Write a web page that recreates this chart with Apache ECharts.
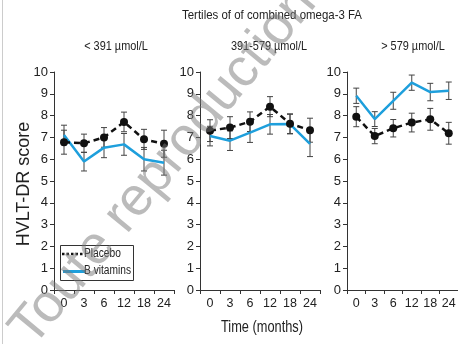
<!DOCTYPE html>
<html><head><meta charset="utf-8">
<script src="https://cdn.jsdelivr.net/npm/echarts@6/dist/echarts.min.js"></script>
<style>html,body{margin:0;padding:0;background:#fff}#c{width:458px;height:344px}</style>
</head><body><div id="c"></div>
<script>
const categories = ['0', '3', '6', '12', '18', '24'];
const panelTitles = ['< 391 µmol/L', '391-579 µmol/L', '> 579 µmol/L'];
const mainTitle = 'Tertiles of of combined omega-3 FA';
const yName = 'HVLT-DR score';
const xName = 'Time (months)';
const seriesNames = ['Placebo', 'B vitamins'];

const placeboLow = [6.78, 6.73, 7.00, 7.71, 6.91, 6.71];
const placeboLowErr = [0.55, 0.42, 0.45, 0.45, 0.46, 0.62];
const vitaminLow = [7.11, 5.89, 6.53, 6.68, 6.00, 5.84];
const vitaminLowErr = [0.45, 0.43, 0.46, 0.50, 0.54, 0.57];

const placeboMid = [7.31, 7.45, 7.72, 8.41, 7.63, 7.33];
const placeboMidErr = [0.50, 0.50, 0.45, 0.46, 0.45, 0.55];
const vitaminMid = [7.06, 6.85, 7.22, 7.60, 7.61, 6.70];
const vitaminMidErr = [0.45, 0.45, 0.45, 0.45, 0.45, 0.58];

const placeboHigh = [7.95, 7.06, 7.42, 7.68, 7.83, 7.19];
const placeboHighErr = [0.46, 0.35, 0.40, 0.43, 0.50, 0.50];
const vitaminHigh = [8.91, 7.84, 8.68, 9.51, 9.08, 9.14];
const vitaminHighErr = [0.35, 0.34, 0.39, 0.35, 0.40, 0.40];

const panels = [
  {p: placeboLow, pe: placeboLowErr, v: vitaminLow, ve: vitaminLowErr},
  {p: placeboMid, pe: placeboMidErr, v: vitaminMid, ve: vitaminMidErr},
  {p: placeboHigh, pe: placeboHighErr, v: vitaminHigh, ve: vitaminHighErr}
];

const FONT = "'Liberation Sans',Arial,sans-serif";
const BLUE = '#1e9fdc';
const INK = '#222';
const lefts = [54, 200, 347];

const chart = echarts.init(document.getElementById('c'), null, {renderer: 'canvas'});

function errData(m, e) { return m.map((v, i) => [i, v - e[i], v + e[i]]); }
function errRender(params, api) {
  const x = api.value(0);
  const top = api.coord([x, api.value(2)]);
  const bot = api.coord([x, api.value(1)]);
  const cw = 3;
  const st = {stroke: '#444', lineWidth: 1};
  return {type: 'group', children: [
    {type: 'line', shape: {x1: top[0], y1: top[1], x2: bot[0], y2: bot[1]}, style: st},
    {type: 'line', shape: {x1: top[0] - cw, y1: top[1], x2: top[0] + cw, y2: top[1]}, style: st},
    {type: 'line', shape: {x1: bot[0] - cw, y1: bot[1], x2: bot[0] + cw, y2: bot[1]}, style: st}
  ]};
}

function label(text, x, y, size, sx, rot) {
  return {type: 'text', x: x, y: y, scaleX: sx, rotation: rot || 0, silent: true, z: 50,
    style: {text: text, fontFamily: FONT, fontSize: size, fill: INK, textAlign: 'center', textVerticalAlign: 'middle'}};
}

const grids = [], xAxes = [], yAxes = [], series = [];
const graphics = [];
graphics.push({type: 'line', shape: {x1: 2.5, y1: 0, x2: 2.5, y2: 344}, style: {stroke: '#ccc', lineWidth: 1}, silent: true});
graphics.push(label(mainTitle, 272, 15, 13, 0.88));
const titleCenters = [116, 269, 413];
panels.forEach((pn, k) => {
  grids.push({left: lefts[k], top: 72, width: 120, height: 218});
  graphics.push(label(panelTitles[k], titleCenters[k], 46, 13, 0.84));
  xAxes.push({type: 'category', gridIndex: k, data: categories, boundaryGap: true,
    axisLine: {lineStyle: {color: '#333', width: 1}},
    axisTick: {show: true, length: 4, lineStyle: {color: '#333'}},
    axisLabel: {fontFamily: FONT, fontSize: 12.5, color: INK, margin: 7, interval: 0}});
  yAxes.push({type: 'value', gridIndex: k, min: 0, max: 10, interval: 1,
    splitLine: {show: false},
    axisLine: {show: true, lineStyle: {color: '#333', width: 1}},
    axisTick: {show: true, length: 4, lineStyle: {color: '#333'}},
    axisLabel: {fontFamily: FONT, fontSize: 13, color: INK, margin: 6}});
  series.push({type: 'custom', xAxisIndex: k, yAxisIndex: k, renderItem: errRender,
    data: errData(pn.v, pn.ve), encode: {x: 0, y: [1, 2]}, z: 1, silent: true});
  series.push({type: 'custom', xAxisIndex: k, yAxisIndex: k, renderItem: errRender,
    data: errData(pn.p, pn.pe), encode: {x: 0, y: [1, 2]}, z: 1, silent: true});
  series.push({name: seriesNames[1], type: 'line', xAxisIndex: k, yAxisIndex: k, data: pn.v,
    symbol: 'none', lineStyle: {color: BLUE, width: 2.5}, itemStyle: {color: BLUE}, z: 3});
  series.push({name: seriesNames[0], type: 'line', xAxisIndex: k, yAxisIndex: k, data: pn.p,
    symbol: 'circle', symbolSize: 8, lineStyle: {color: '#111', width: 2.5, type: [6, 4]},
    itemStyle: {color: '#111'}, z: 4});
});

graphics.push(label(xName, 262, 328, 16, 0.8));
graphics.push(label(yName, 24, 184, 18, 1, Math.PI / 2));

// legend box
graphics.push({type: 'rect', shape: {x: 60.5, y: 245.5, width: 73, height: 35}, silent: true, z: 40,
  style: {fill: '#fff', stroke: '#333', lineWidth: 1}});
graphics.push({type: 'line', shape: {x1: 62, y1: 254, x2: 84, y2: 254}, silent: true, z: 41,
  style: {stroke: '#111', lineWidth: 2.5, lineDash: [2.5, 2]}});
graphics.push({type: 'line', shape: {x1: 63, y1: 271.5, x2: 85, y2: 271.5}, silent: true, z: 41,
  style: {stroke: BLUE, lineWidth: 3}});
graphics.push({type: 'text', x: 84, y: 254, scaleX: 0.85, silent: true, z: 42,
  style: {text: seriesNames[0], fontFamily: FONT, fontSize: 12, fill: INK, textAlign: 'left', textVerticalAlign: 'middle'}});
graphics.push({type: 'text', x: 84, y: 271, scaleX: 0.85, silent: true, z: 42,
  style: {text: seriesNames[1], fontFamily: FONT, fontSize: 12, fill: INK, textAlign: 'left', textVerticalAlign: 'middle'}});

// watermark
graphics.push({type: 'text', x: 42, y: 356, rotation: 0.88, z: 100, silent: true,
  style: {text: 'Toute reproduction interdite', fontFamily: FONT,
    fontSize: 54, fill: 'rgba(120,120,120,0.5)', textAlign: 'left', textVerticalAlign: 'bottom'}});

chart.setOption({
  animation: false,
  grid: grids, xAxis: xAxes, yAxis: yAxes, series: series,
  graphic: graphics
});
</script></body></html>
